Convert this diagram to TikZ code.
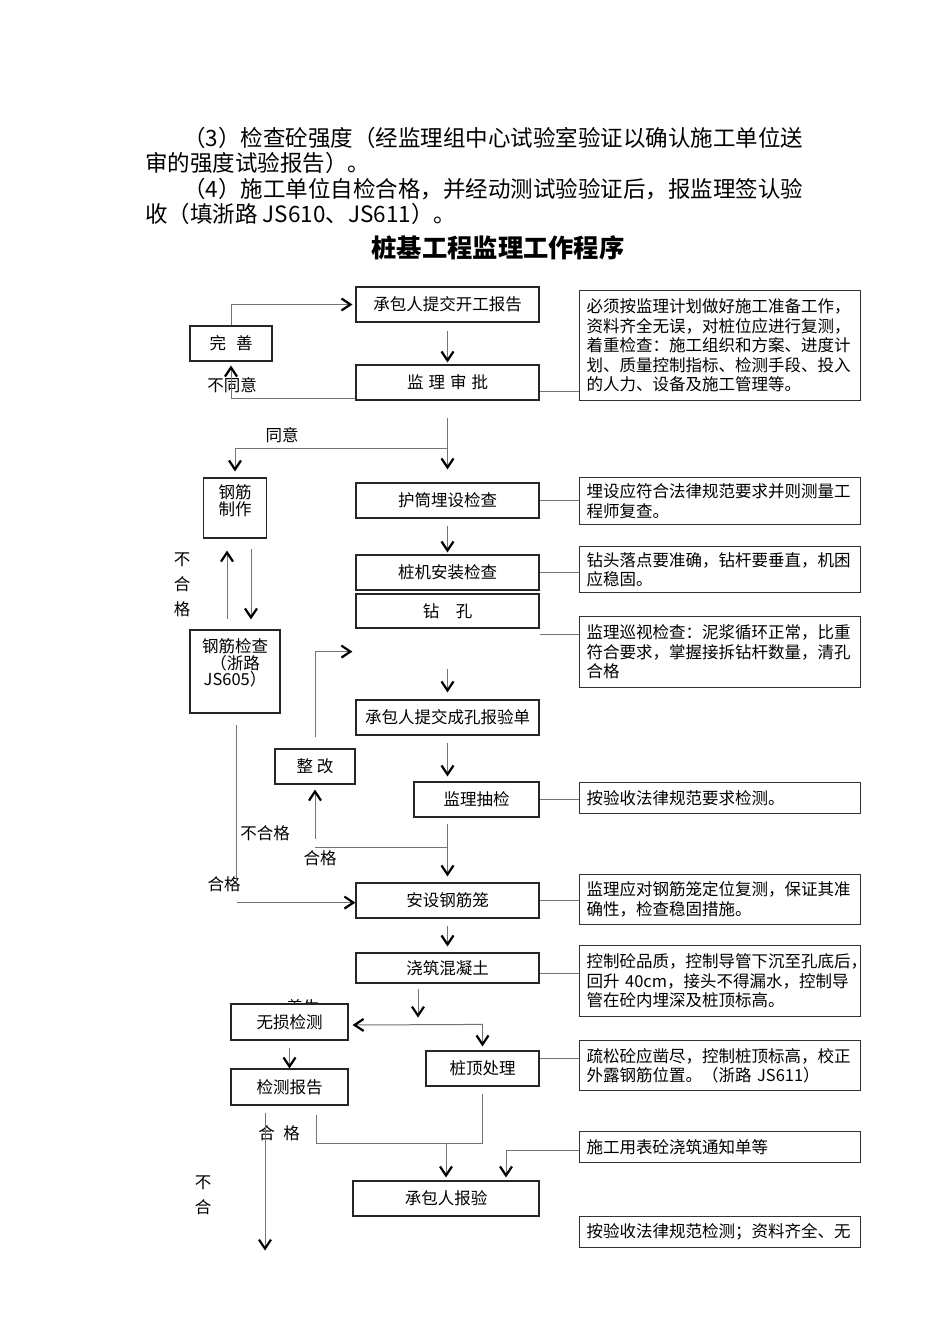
\documentclass[tikz,border=0pt]{standalone}
\usepackage{fontspec}
\setmainfont{Noto Sans CJK SC}
\usetikzlibrary{arrows.meta}
\newcommand\flowfont{\fontsize{16.5}{19.5}\selectfont}
\newcommand\parafont{\fontsize{22.5}{27}\selectfont}
\newcommand\gap[1]{\hspace*{#1}}

\begin{document}
\begin{tikzpicture}[
    x=1pt, y=-1pt,
    box/.style={
        draw=black!85,
        line width=1.2pt,
        fill=white,
        minimum width=183pt,
        minimum height=35pt,
        inner sep=0pt,
        font=\flowfont,
        align=center,
    },
    note/.style={
        draw=black!80,
        line width=1.2pt,
        anchor=north west,
        minimum width=281pt,
        text width=267pt,
        inner xsep=7pt,
        inner ysep=0pt,
        font=\flowfont,
        align=left,
    },
    link/.style={draw=black!55, line width=1pt},
    flow/.style={link, -{Straight Barb[length=9pt, width=12pt, line width=2.2pt, color=black]}},
    tag/.style={font=\flowfont, inner sep=0pt},
    para/.style={font=\parafont, anchor=base west, inner sep=0pt},
]
\useasboundingbox (0,0) rectangle (950,1344);

\node[para] (p1) at (183,146) {（3）检查砼强度（经监理组中心试验室验证以确认施工单位送};
\node[para] (p2) at (145,171) {审的强度试验报告）。};
\node[para] (p3) at (183,197) {（4）施工单位自检合格，并经动测试验验证后，报监理签认验};
\node[para] (p4) at (145,222) {收（填浙路 JS610、JS611）。};
\node[font=\bfseries\fontsize{25.3}{30}\selectfont, inner sep=0pt] (title) at (498,248) {桩基工程监理工作程序};

\node[box] (submit) at (447.5,304.5) {承包人提交开工报告};
\node[box, minimum width=82pt] (perfect) at (231,343.5) {完\gap{10pt}善};
\node[box] (approve) at (447.5,382.5) {监\gap{5pt}理\gap{5pt}审\gap{5pt}批};
\node[note, minimum height=110pt] (n1) at (579,290) {必须按监理计划做好施工准备工作，\\资料齐全无误，对桩位应进行复测，\\着重检查：施工组织和方案、进度计\\划、质量控制指标、检测手段、投入\\的人力、设备及施工管理等。};

\node[box, minimum width=63pt, minimum height=60pt,
      label={[tag, anchor=north, yshift=-7pt, align=center, font=\fontsize{16.5}{17}\selectfont]north:钢筋\\制作}] (rebar) at (235,508) {};
\node[box, minimum width=90pt, minimum height=83pt,
      label={[tag, anchor=north, yshift=-9pt, align=center, font=\fontsize{16.5}{16.5}\selectfont]north:钢筋检查\\（浙路\\JS605）}] (check) at (235,671.5) {};

\node[box] (casing) at (447.5,500.5) {护筒埋设检查};
\node[note, minimum height=47pt] (n2) at (579,477) {埋设应符合法律规范要求并则测量工\\程师复查。};
\node[box] (rig) at (447.5,572.5) {桩机安装检查};
\node[note, minimum height=46pt] (n3) at (579,546) {钻头落点要准确，钻杆要垂直，机困\\应稳固。};
\node[box, minimum height=34pt] (drill) at (447.5,611) {钻\gap{16.5pt}孔};
\node[note, minimum height=71pt] (n4) at (579,616) {监理巡视检查：泥浆循环正常，比重\\符合要求，掌握接拆钻杆数量，清孔\\合格};
\node[box] (hole) at (447.5,717.5) {承包人提交成孔报验单};
\node[box, minimum width=80pt] (fix) at (315,766.5) {整\gap{4pt}改};
\node[box, minimum width=125pt] (spot) at (476.5,799.5) {监理抽检};
\node[note, minimum height=31pt] (n5) at (579,782) {按验收法律规范要求检测。};
\node[box] (cage) at (447.5,900.5) {安设钢筋笼};
\node[note, minimum height=50pt] (n6) at (579,874) {监理应对钢筋笼定位复测，保证其准\\确性，检查稳固措施。};
\node[box, minimum height=30pt] (pour) at (447.5,968) {浇筑混凝土};
\node[note, minimum height=71pt] (n7) at (579,945) {控制砼品质，控制导管下沉至孔底后，\\回升 40cm，接头不得漏水，控制导\\管在砼内埋深及桩顶标高。};
\node[tag] (cure) at (303,1007) {养生};
\node[box, minimum width=117pt, minimum height=36pt] (ndt) at (289.5,1022) {无损检测};
\node[box, minimum width=113pt] (head) at (482.5,1068.5) {桩顶处理};
\node[note, minimum height=50pt] (n8) at (579,1040) {疏松砼应凿尽，控制桩顶标高，校正\\外露钢筋位置。（浙路 JS611）};
\node[box, minimum width=117pt, minimum height=36pt] (report) at (289.5,1087) {检测报告};
\node[box, minimum width=186pt] (accept) at (446,1198.5) {承包人报验};
\node[note, minimum height=31pt] (n9) at (579,1131) {施工用表砼浇筑通知单等};
\node[note, minimum height=31pt] (n10) at (579,1216) {按验收法律规范检测；资料齐全、无};

% labels
\node[tag] (t1) at (232,385) {不同意};
\node[tag] (t2) at (282,435) {同意};
\node[tag, align=center, font=\fontsize{16.5}{25}\selectfont] (t3) at (182,585) {不\\合\\格};
\node[tag] (t4) at (265,833) {不合格};
\node[tag] (t5) at (320,858) {合格};
\node[tag] (t6) at (224,884) {合格};
\node[tag] (t7) at (279,1133) {合\gap{8.5pt}格};
\node[tag, align=center, font=\fontsize{16.5}{25}\selectfont] (t8) at (203,1195) {不\\合};

% start and approval
\draw[flow] ([yshift=-8pt]submit.south) -- ([yshift=2pt]approve.north);
\draw[flow] (perfect.north) |- ([xshift=-3pt]submit.west);
\draw[flow] ([yshift=-16pt]approve.west) -| ([yshift=-4pt]perfect.south);
\draw[link] ([yshift=-9pt]approve.east) -- ([yshift=-9pt]approve.east -| n1.west);
\coordinate (agree) at ([yshift=-48pt]approve.south);
\draw[flow] ([yshift=-17pt]approve.south) -- ([yshift=13pt]casing.north);
\draw[flow] (agree) -| ([yshift=6pt]rebar.north);

% drilling
\draw[flow] ([yshift=-7pt]casing.south) -- ([yshift=2pt]rig.north);
\draw[link] (casing.east) -- (casing.east -| n2.west);
\draw[link] (rig.east) -- (rig.east -| n3.west);
\draw[link] ([yshift=-6pt]drill.south east) -- ([yshift=-6pt]drill.south east -| n4.west);
\draw[flow] ([yshift=-40pt]drill.south) -- ([yshift=7pt]hole.north);

% rebar
\draw[flow] ([shift={(-8pt,10pt)}]check.north) -- ([shift={(-8pt,-12pt)}]rebar.south);
\draw[flow] ([shift={(16pt,-10pt)}]rebar.south) -- ([shift={(16pt,10pt)}]check.north);
\coordinate (rebarend) at ([shift={(1pt,-169pt)}]check.south);
\draw[link] ([shift={(1pt,-11pt)}]check.south) -- (rebarend);
\coordinate (rebarok) at ([shift={(1pt,-20pt)}]rebarend);
\draw[flow] (rebarok) -- (rebarok -| cage.west);

% inspection
\coordinate (redo) at ([shift={(-3pt,-23pt)}]drill.south west);
\draw[flow] ([yshift=11pt]fix.north) |- (redo);
\draw[flow] ([yshift=-7pt]hole.south) -- ([yshift=5pt]hole.south |- spot.north);
\draw[link] (spot.east) -- (spot.east -| n5.west);
\coordinate (spotok) at ([yshift=-30pt]spot.south -| cage.north);
\draw[flow] ([yshift=-6pt]spot.south -| cage.north) -- ([yshift=6pt]cage.north);
\draw[link] (spotok) -- (spotok -| fix.south);
\draw[flow] ([yshift=-54pt]fix.south) -- ([yshift=-5pt]fix.south);

% concrete
\draw[link] (cage.east) -- (cage.east -| n6.west);
\draw[flow] ([yshift=-7pt]cage.south) -- ([yshift=6pt]pour.north);
\draw[link] ([yshift=-5pt]pour.east) -- ([yshift=-5pt]pour.east -| n7.west);
\coordinate (split) at ([shift={(-29.5pt,-34pt)}]pour.south);
\draw[flow] ([shift={(-29.5pt,-5pt)}]pour.south) -- (split);
\draw[flow] ([yshift=26pt]head.north) -- ([shift={(4pt,-3pt)}]ndt.east);
\draw[flow] ([yshift=26pt]head.north) -- ([yshift=4pt]head.north);
\draw[link] ([yshift=10.5pt]head.east) -- ([yshift=10.5pt]head.east -| n8.west);
\draw[flow] ([yshift=-7pt]ndt.south) -- (report.north);

% acceptance
\coordinate (fail) at ([shift={(-24.5pt,-145pt)}]report.south);
\draw[flow] ([shift={(-24.5pt,-7pt)}]report.south) -- (fail);
\draw[link] ([shift={(26.5pt,-9pt)}]report.south) |- ([yshift=-57pt]head.south) -- ([yshift=-7pt]head.south);
\draw[flow] ([yshift=-57pt]head.south -| accept.north) -- ([yshift=3pt]accept.north);
\draw[flow] ([yshift=-3.5pt]n9.west) -| ([shift={(60pt,3pt)}]accept.north);

\end{tikzpicture}
\end{document}
